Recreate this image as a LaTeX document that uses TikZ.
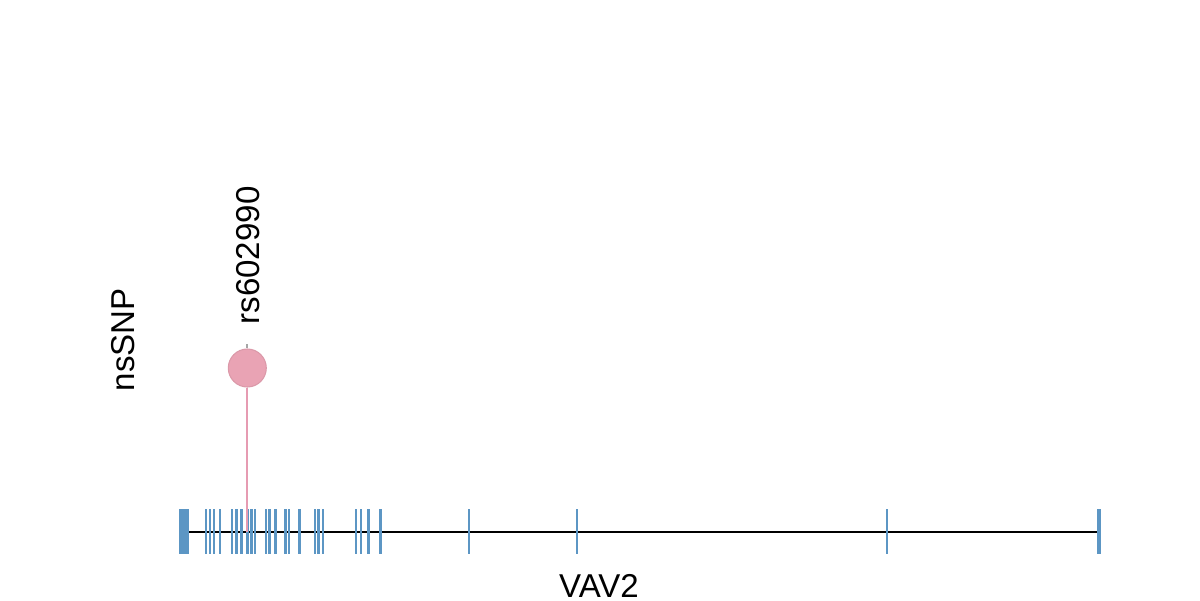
\documentclass[tikz,border=0pt]{standalone}
\usepackage{fontspec}
\setmainfont{Liberation Sans}
\begin{document}
\begin{tikzpicture}[x=0.01cm,y=-0.01cm,
  exontick/.style={draw=exonblue,line width=0.7pt},
  lbl/.style={font=\fontsize{9.4}{11}\selectfont,inner sep=0pt},
  snpdot/.style={circle,fill=snppink,draw=snppink!90!black!60!snppink,line width=0.3pt,minimum size=0.38cm,inner sep=0pt},
  stem/.style={draw=snpline,line width=0.6pt}]
\definecolor{exonblue}{RGB}{92,150,196}
\definecolor{snppink}{RGB}{233,163,180}
\definecolor{snpline}{RGB}{230,155,178}
\useasboundingbox (0,0) rectangle (1200,600);
% gene backbone
\coordinate (gs) at (189,532);
\coordinate (ge) at (1099,532);
\draw[black,line width=0.6pt] (gs) -- (ge);
% first exon block
\fill[exonblue] (179,509) rectangle (189,554);
% exon ticks
\foreach \xx in {206,210,214,220,232,236.5,241.7,247.3,251.7,255,266,269.3,275.3,285.7,289,299.3,315,318.3,323,356,361,368.3,380.3,469,577,887}{
  \draw[exontick] (\xx,509) -- (\xx,554);
}
\draw[exonblue,line width=1.2pt] (1099,509) -- (1099,554);
% SNP lollipop
\coordinate (snpbase) at (247.3,532);
\coordinate (snptop) at (247.3,344);
\node[snpdot] (snp) at (247.3,368) {};
\draw[gray!70,line width=0.5pt] (snptop) -- (snp.north);
\draw[stem] (snp.south) -- (snpbase);
% labels
\node[lbl,rotate=90,anchor=base west] (rs) at (259,325) {rs602990};
\node[lbl,rotate=90,anchor=base west] (ns) at (134,392) {nsSNP};
\node[lbl,anchor=base] (gene) at (599,597) {VAV2};
\end{tikzpicture}
\end{document}
